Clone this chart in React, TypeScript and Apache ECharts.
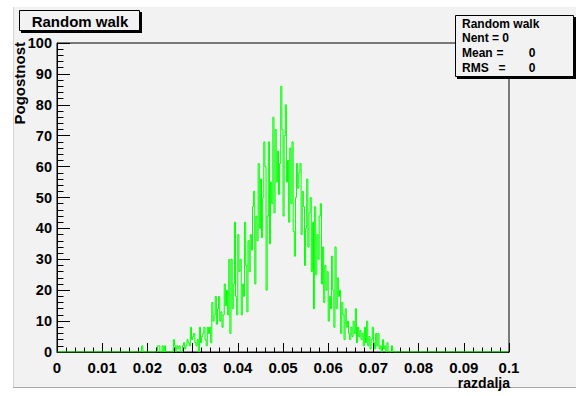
import React, { useEffect, useRef } from "react";
import * as echarts from "echarts";

// Histogram: 400 bins from 0 to 0.1
const binWidth = 0.00025;
const nBins = 400;
const firstBin = 70; // counts[] starts at this bin; all other bins are 0
const counts = [
  0, 0, 0, 0, 0, 2, 0, 0, 0, 0,
  0, 0, 0, 0, 0, 0, 0, 0, 0, 2,
  2, 0, 0, 2, 0, 2, 0, 0, 0, 0,
  0, 0, 0, 4, 2, 0, 2, 1, 2, 0,
  0, 2, 3, 1, 2, 4, 3, 2, 8, 4,
  5, 6, 3, 2, 4, 0, 8, 3, 5, 6,
  8, 4, 2, 8, 6, 8, 3, 16, 10, 12,
  18, 9, 14, 18, 10, 13, 8, 12, 22, 15,
  20, 12, 30, 6, 30, 14, 22, 42, 18, 12,
  38, 26, 30, 12, 22, 18, 42, 28, 13, 36,
  26, 38, 33, 47, 52, 22, 44, 36, 61, 40,
  56, 37, 50, 68, 60, 20, 44, 68, 35, 55,
  48, 76, 45, 72, 55, 65, 51, 61, 86, 72,
  44, 70, 80, 55, 62, 42, 66, 48, 68, 39,
  31, 50, 61, 53, 58, 61, 38, 52, 47, 28,
  40, 56, 34, 45, 50, 26, 42, 14, 47, 25,
  38, 30, 44, 48, 22, 34, 16, 28, 20, 26,
  10, 18, 14, 31, 20, 8, 34, 14, 24, 18,
  20, 6, 16, 12, 4, 14, 8, 10, 6, 4,
  8, 5, 10, 6, 14, 3, 8, 5, 7, 4,
  6, 2, 8, 3, 10, 2, 5, 1, 4, 8,
  3, 1, 6, 2, 6, 1, 2, 0, 4, 1,
  2, 0, 3, 0, 0, 0, 2, 0, 0, 0,
];

const xTicks = { min: 0, max: 0.1, interval: 0.01 };
const yTicks = { min: 0, max: 100, interval: 10 };
const titleText = "Random walk";
const xTitle = "razdalja";
const yTitle = "Pogostnost";
const statsLines = [
  ["Random walk", "", ""],
  ["Nent = 0", "", ""],
  ["Mean", "=", "0"],
  ["RMS", "=", "0"],
];

const FONT = '"Liberation Sans", Arial, Helvetica, sans-serif';

export default function App() {
  const ref = useRef<HTMLDivElement>(null);
  useEffect(() => {
    document.body.style.margin = "0";
    if (!ref.current) return;
    const chart = echarts.init(ref.current, null, { renderer: "svg" });

    const data: number[][] = [];
    for (let i = 0; i < nBins; i++) {
      const k = i - firstBin;
      const c = k >= 0 && k < counts.length ? counts[k] : 0;
      data.push([(i + 0.5) * binWidth, c]);
    }

    const statsEls: any[] = [];
    statsLines.forEach((ln, i) => {
      const y = 23.5 + i * 14.8;
      statsEls.push({
        type: "text", z: 101, x: 462, y,
        style: { text: ln[0], font: `bold 12px ${FONT}`, fill: "#000", textVerticalAlign: "middle" },
      });
      if (ln[1]) statsEls.push({
        type: "text", z: 101, x: ln[0] === "RMS" ? 502 : 500, y,
        style: { text: ln[1], font: `bold 12px ${FONT}`, fill: "#000", textAlign: "center", textVerticalAlign: "middle" },
      });
      if (ln[2]) statsEls.push({
        type: "text", z: 101, x: 532, y,
        style: { text: ln[2], font: `bold 12px ${FONT}`, fill: "#000", textAlign: "center", textVerticalAlign: "middle" },
      });
    });

    chart.setOption({
      animation: false,
      backgroundColor: "#f2f2f2",
      grid: {
        left: 57, right: 67, top: 43, bottom: 44,
        show: true, borderColor: "#000", borderWidth: 1, backgroundColor: "transparent",
      },
      xAxis: {
        type: "value", min: xTicks.min, max: xTicks.max, interval: xTicks.interval,
        axisLine: { show: true, lineStyle: { color: "#000", width: 1 } },
        axisTick: { show: true, inside: true, length: 9, lineStyle: { color: "#000" } },
        minorTick: { show: true, splitNumber: 5, length: 4.5, lineStyle: { color: "#000" } },
        splitLine: { show: false },
        axisLabel: {
          color: "#000", fontSize: 15, fontWeight: "bold", fontFamily: FONT, margin: 8, lineHeight: 14,
          formatter: (v: number) => String(+v.toFixed(3)),
        },
      },
      yAxis: {
        type: "value", min: yTicks.min, max: yTicks.max, interval: yTicks.interval,
        axisLine: { show: true, lineStyle: { color: "#000", width: 1 } },
        axisTick: { show: true, inside: true, length: 13, lineStyle: { color: "#000" } },
        minorTick: { show: true, splitNumber: 5, length: 6.5, lineStyle: { color: "#000" } },
        splitLine: { show: false },
        axisLabel: {
          color: "#000", fontSize: 14.5, fontWeight: "bold", fontFamily: FONT, margin: 5,
          padding: [0, 0, 3, 0],
        },
      },
      series: [
        {
          type: "line", step: "middle", data, showSymbol: false, symbol: "none",
          lineStyle: { color: "#00ff00", width: 1 }, z: 2,
        },
      ],
      graphic: [
        // page margins (white) and canvas bevel
        { type: "rect", z: 100, shape: { x: 0, y: 0, width: 576, height: 7 }, style: { fill: "#ffffff" } },
        { type: "rect", z: 100, shape: { x: 0, y: 0, width: 13, height: 396 }, style: { fill: "#ffffff" } },
        { type: "rect", z: 100, shape: { x: 0, y: 388, width: 576, height: 8 }, style: { fill: "#ffffff" } },
        { type: "line", z: 100, shape: { x1: 13.5, y1: 7, x2: 13.5, y2: 388 }, style: { stroke: "#d4d4d4", lineWidth: 1 } },
        { type: "line", z: 100, shape: { x1: 13, y1: 387.5, x2: 576, y2: 387.5 }, style: { stroke: "#a8a8a8", lineWidth: 1 } },
        // title box
        { type: "rect", z: 100, shape: { x: 21, y: 12, width: 121, height: 21 }, style: { fill: "#000" } },
        { type: "rect", z: 100, shape: { x: 19.5, y: 10.5, width: 120, height: 20 }, style: { fill: "#f2f2f2", stroke: "#000", lineWidth: 1 } },
        {
          type: "text", z: 101, x: 80, y: 21,
          style: { text: titleText, font: `bold 15px ${FONT}`, fill: "#000", textAlign: "center", textVerticalAlign: "middle" },
        },
        // stats box
        { type: "rect", z: 100, shape: { x: 457, y: 17, width: 119, height: 62 }, style: { fill: "#000" } },
        { type: "rect", z: 100, shape: { x: 455.5, y: 15.5, width: 118, height: 61 }, style: { fill: "#f2f2f2", stroke: "#000", lineWidth: 1 } },
        ...statsEls,
        // axis titles
        {
          type: "text", z: 101, x: 510, y: 383,
          style: { text: xTitle, font: `bold 14px ${FONT}`, fill: "#000", textAlign: "right", textVerticalAlign: "middle" },
        },
        {
          type: "text", z: 101, x: 19, y: 42, rotation: Math.PI / 2,
          style: { text: yTitle, font: `bold 15px ${FONT}`, fill: "#000", textAlign: "right", textVerticalAlign: "middle" },
        },
      ],
    });
    return () => chart.dispose();
  }, []);
  return <div ref={ref} style={{ width: 576, height: 396 }} />;
}
